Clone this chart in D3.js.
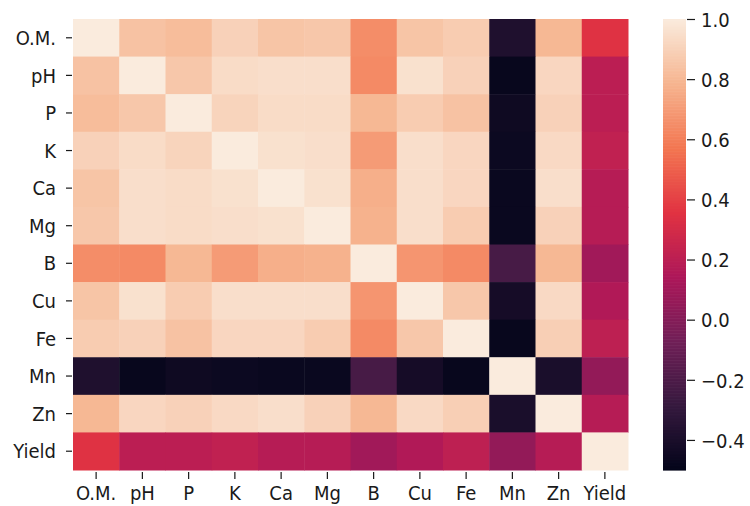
<!DOCTYPE html>
<html><head><meta charset="utf-8">
<script src="https://cdn.jsdelivr.net/npm/d3@7"></script>
<style>body{margin:0;background:#fff}text{font-family:"DejaVu Sans Condensed","DejaVu Sans",sans-serif}</style>
</head><body>
<svg id="c" width="750" height="506"></svg>
<script>
const labels = ["O.M.","pH","P","K","Ca","Mg","B","Cu","Fe","Mn","Zn","Yield"];
const rowOM    = [1.00, 0.84, 0.82, 0.90, 0.85, 0.86, 0.65, 0.85, 0.88, -0.38, 0.80, 0.35];
const rowPH    = [0.84, 1.00, 0.86, 0.94, 0.95, 0.95, 0.64, 0.96, 0.90, -0.48, 0.92, 0.20];
const rowP     = [0.82, 0.86, 1.00, 0.91, 0.94, 0.94, 0.80, 0.88, 0.84, -0.45, 0.90, 0.20];
const rowK     = [0.90, 0.94, 0.91, 1.00, 0.96, 0.95, 0.70, 0.95, 0.92, -0.46, 0.93, 0.22];
const rowCa    = [0.85, 0.95, 0.94, 0.96, 1.00, 0.96, 0.77, 0.95, 0.92, -0.47, 0.95, 0.18];
const rowMg    = [0.86, 0.95, 0.94, 0.95, 0.96, 1.00, 0.78, 0.95, 0.88, -0.47, 0.90, 0.18];
const rowB     = [0.65, 0.64, 0.80, 0.70, 0.77, 0.78, 1.00, 0.68, 0.64, -0.22, 0.80, 0.10];
const rowCu    = [0.85, 0.96, 0.88, 0.95, 0.95, 0.95, 0.68, 1.00, 0.86, -0.42, 0.93, 0.16];
const rowFe    = [0.88, 0.90, 0.84, 0.92, 0.92, 0.88, 0.64, 0.86, 1.00, -0.48, 0.89, 0.21];
const rowMn    = [-0.38, -0.48, -0.45, -0.46, -0.47, -0.47, -0.22, -0.42, -0.48, 1.00, -0.40, 0.05];
const rowZn    = [0.80, 0.92, 0.90, 0.93, 0.95, 0.90, 0.80, 0.93, 0.89, -0.40, 1.00, 0.18];
const rowYield = [0.35, 0.20, 0.20, 0.22, 0.18, 0.18, 0.10, 0.16, 0.21, 0.05, 0.18, 1.00];
const matrix = [rowOM,rowPH,rowP,rowK,rowCa,rowMg,rowB,rowCu,rowFe,rowMn,rowZn,rowYield];
const colorTicks = [-0.4,-0.2,0.0,0.2,0.4,0.6,0.8,1.0];
const vmin = -0.5, vmax = 1.0;
const rocketStops = ["#03051a","#35193e","#701f57","#ad1759","#e13342","#f37651","#f6b48f","#faebdd"];
const rocketPos = [0, 1/7, 2/7, 3/7, 4/7, 5/7, 6/7, 1];

const svg = d3.select("#c");
const L = 73, R = 628, T = 19, B = 470;
const x = d3.scaleBand().domain(labels).range([L, R]);
const y = d3.scaleBand().domain(labels).range([T, B]);
const tScale = d3.scaleLinear().domain([vmin, vmax]).range([0,1]).clamp(true);
const rocket = d3.scaleLinear().domain(rocketPos).range(rocketStops).interpolate(d3.interpolateRgb);
const color = v => rocket(tScale(v));

const cells = [];
matrix.forEach((row,i)=>row.forEach((v,j)=>cells.push({r:labels[i],c:labels[j],v})));
svg.append("g").selectAll("rect").data(cells).join("rect")
  .attr("x",d=>x(d.c)).attr("y",d=>y(d.r))
  .attr("width",x.bandwidth()+0.5).attr("height",y.bandwidth()+0.5)
  .attr("fill",d=>color(d.v));

const fs = "20px", ink = "#1a1a1a";
const ax = svg.append("g").attr("transform",`translate(${L-1},0)`)
  .call(d3.axisLeft(y).tickSize(6).tickPadding(10));
ax.select(".domain").remove();
ax.selectAll("text").style("font-size",fs).attr("fill",ink).attr("dy","0.36em");
ax.selectAll("line").attr("stroke",ink).attr("stroke-width",1.2);

const bx = svg.append("g").attr("transform",`translate(0,${B+2})`)
  .call(d3.axisBottom(x).tickSize(7).tickPadding(7));
bx.select(".domain").remove();
bx.selectAll("text").style("font-size",fs).attr("fill",ink);
bx.selectAll("line").attr("stroke",ink).attr("stroke-width",1.2);

// colorbar
const CL = 663, CR = 686;
const cy = d3.scaleLinear().domain([vmin, vmax]).range([B, T]);
const steps = d3.range(0, 300).map(i => vmin + (vmax - vmin) * i / 300);
const dv = (vmax - vmin) / 300;
svg.append("g").selectAll("rect").data(steps).join("rect")
  .attr("x",CL).attr("width",CR-CL)
  .attr("y",d=>cy(d+dv)).attr("height",d=>cy(d)-cy(d+dv)+0.6)
  .attr("fill",d=>color(d+dv/2));
const fmt = v => (v < 0 ? "\u2212" : "") + Math.abs(v).toFixed(1);
const cax = svg.append("g").attr("transform",`translate(${CR+1},0)`)
  .call(d3.axisRight(cy).tickValues(colorTicks).tickFormat(fmt).tickSize(8).tickPadding(6));
cax.select(".domain").remove();
cax.selectAll("text").style("font-size",fs).attr("fill",ink).attr("dy","0.36em");
cax.selectAll("line").attr("stroke",ink).attr("stroke-width",1.2);
</script>
</body></html>
